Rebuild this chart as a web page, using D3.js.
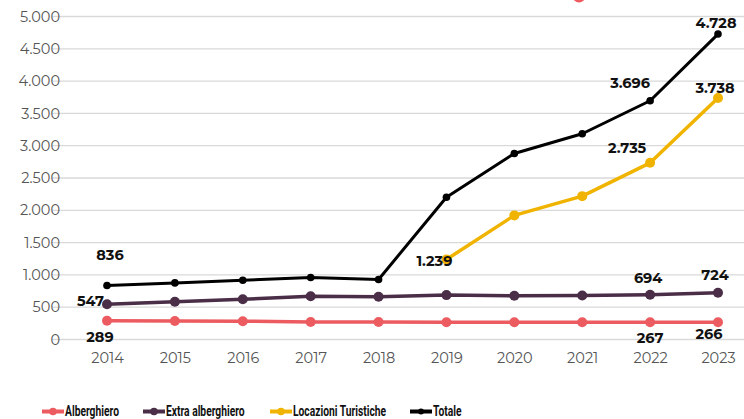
<!DOCTYPE html>
<html>
<head>
<meta charset="utf-8">
<title>Strutture ricettive</title>
<script src="https://d3js.org/d3.v7.min.js"></script>
<style>
  body { margin: 0; background: #fff; }
  svg { display: block; }
</style>
</head>
<body>
<div id="chart"></div>
<script>
// data
const years = ["2014", "2015", "2016", "2017", "2018", "2019", "2020", "2021", "2022", "2023"];
const alberghiero = [289, 287, 283, 271, 270, 268, 267, 268, 267, 266];
const extraAlberghiero = [547, 585, 622, 670, 662, 687, 676, 682, 694, 724];
const locazioni = [null, null, null, null, null, 1239, 1921, 2219, 2735, 3738];
const totale = [836, 876, 918, 960, 929, 2202, 2880, 3185, 3696, 4728];
const yTicks = [0, 500, 1000, 1500, 2000, 2500, 3000, 3500, 4000, 4500, 5000];
const seriesNames = ["Alberghiero", "Extra alberghiero", "Locazioni Turistiche", "Totale"];

// labelled points: index -> [dx, dy, anchor] offset of the label centre from the point
const labelsAlb = { 0: [-7, 16, "middle"], 8: [0, 16, "middle"], 9: [-9, 12, "middle"] };
const labelsExtra = { 0: [-3, -3, "end"], 8: [-2, -17, "middle"], 9: [-3, -18, "middle"] };
const labelsLoc = { 5: [6, 1.5, "end"], 8: [-23, -15, "middle"], 9: [-3, -10, "middle"] };
const labelsTot = { 0: [3, -30, "middle"], 8: [-20, -18, "middle"], 9: [-2, -11, "middle"] };

const W = 744, H = 419;
const fmt = v => d3.format(",")(v).replace(/,/g, ".");
const labelFont = "Montserrat, 'Open Sans', sans-serif";

const svg = d3.select("#chart").append("svg")
  .attr("width", W)
  .attr("height", H);

const x = d3.scalePoint()
  .domain(years)
  .range([107, 718]);

const y = d3.scaleLinear()
  .domain([0, 5000])
  .range([339.5, 16.5]);

// red bit of the title, cut off at the top
svg.append("circle")
  .attr("cx", 579).attr("cy", -4).attr("r", 6.5)
  .attr("fill", "#ef5a5f");

// gridlines
svg.append("g")
  .selectAll("line")
  .data(yTicks)
  .join("line")
    .attr("x1", 52).attr("x2", W)
    .attr("y1", d => y(d)).attr("y2", d => y(d))
    .attr("stroke", "#d9d9d9")
    .attr("stroke-width", 1.3);

// y axis
const yAxis = svg.append("g")
  .attr("transform", "translate(60,0)")
  .call(d3.axisLeft(y).tickValues(yTicks).tickSize(0).tickPadding(0).tickFormat(fmt));
yAxis.select(".domain").remove();
yAxis.selectAll("text")
  .attr("font-family", labelFont)
  .attr("font-size", 14.5)
  .attr("fill", "#555");

// x axis
const xAxis = svg.append("g")
  .attr("transform", "translate(0,340)")
  .call(d3.axisBottom(x).tickSize(0).tickPadding(13));
xAxis.select(".domain").remove();
xAxis.selectAll("text")
  .attr("font-family", labelFont)
  .attr("font-size", 14.5)
  .attr("fill", "#555");

const series = [
  { name: seriesNames[0], values: alberghiero, color: "#ec5b60", width: 3.5, r: 5, labels: labelsAlb },
  { name: seriesNames[1], values: extraAlberghiero, color: "#4a2d47", width: 3.5, r: 5, labels: labelsExtra },
  { name: seriesNames[2], values: locazioni, color: "#f0b400", width: 3.5, r: 5, labels: labelsLoc },
  { name: seriesNames[3], values: totale, color: "#000000", width: 3, r: 3.8, labels: labelsTot }
];

const line = d3.line()
  .defined(d => d.v != null)
  .x(d => x(d.year))
  .y(d => y(d.v));

series.forEach(s => {
  const pts = years.map((yr, i) => ({ year: yr, v: s.values[i] }));
  svg.append("path")
    .datum(pts)
    .attr("fill", "none")
    .attr("stroke", s.color)
    .attr("stroke-width", s.width)
    .attr("stroke-linejoin", "round")
    .attr("d", line);

  svg.append("g")
    .selectAll("circle")
    .data(pts.filter(d => d.v != null))
    .join("circle")
      .attr("cx", d => x(d.year))
      .attr("cy", d => y(d.v))
      .attr("r", s.r)
      .attr("fill", s.color);
});

// data labels
series.forEach(s => {
  const pts = years.map((yr, i) => ({ year: yr, v: s.values[i], off: s.labels[i] }))
    .filter(d => d.off);
  svg.append("g")
    .selectAll("text")
    .data(pts)
    .join("text")
      .attr("x", d => x(d.year) + d.off[0])
      .attr("y", d => y(d.v) + d.off[1] + 5)
      .attr("text-anchor", d => d.off[2])
      .attr("font-family", labelFont)
      .attr("font-weight", 700)
      .attr("font-size", 14.5)
      .attr("fill", "#111")
      .text(d => fmt(d.v));
});

// legend (condensed look: squeeze the text horizontally)
const legendX = [42, 143, 270, 410];
const legend = svg.append("g")
  .selectAll("g")
  .data(series)
  .join("g")
    .attr("transform", (d, i) => `translate(${legendX[i]},411.5)`);
legend.append("line")
  .attr("x1", 0).attr("x2", 22)
  .attr("stroke", d => d.color)
  .attr("stroke-width", 4);
legend.append("circle")
  .attr("cx", 11).attr("r", d => d.name === "Totale" ? 3 : 3.8)
  .attr("fill", d => d.color);
legend.append("text")
  .attr("transform", "translate(23,4.5) scale(0.72,1)")
  .attr("font-family", "Roboto, 'Noto Sans', sans-serif")
  .attr("font-weight", 700)
  .attr("font-size", 14.3)
  .attr("fill", "#111")
  .text(d => d.name);
</script>
</body>
</html>
